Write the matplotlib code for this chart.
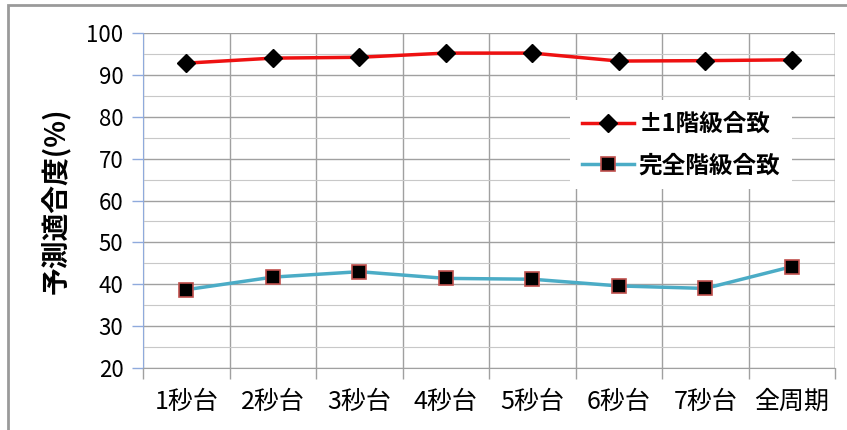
import numpy as np
import matplotlib.pyplot as plt
from matplotlib.ticker import MultipleLocator, FixedLocator
from matplotlib.patches import Rectangle

plt.rcParams['font.family'] = ['Noto Sans CJK JP', 'DejaVu Sans']

categorias = ['1秒台', '2秒台', '3秒台', '4秒台', '5秒台', '6秒台', '7秒台', '全周期']
pm1_acierto = [92.8, 94.0, 94.2, 95.2, 95.2, 93.3, 93.4, 93.6]
exacto = [38.7, 41.7, 43.0, 41.4, 41.2, 39.6, 39.0, 44.2]

fig = plt.figure(figsize=(8.47, 4.3), dpi=100)
ax = fig.add_axes([143/847, 1-368/430, 692/847, 335/430])

x = np.arange(len(categorias))
ax.plot(x, pm1_acierto, '-', color='#ee1111', lw=2.5, marker='D', ms=9,
        mfc='black', mec='black', label='±1階級合致', zorder=3)
ax.plot(x, exacto, '-', color='#4bacc6', lw=2.5, marker='s', ms=10,
        mfc='black', mec='#c0504d', mew=1.2, label='完全階級合致', zorder=3)

ax.set_xlim(-0.5, len(categorias) - 0.5)
ax.set_ylim(20, 100)
ax.yaxis.set_major_locator(MultipleLocator(10))
ax.yaxis.set_minor_locator(MultipleLocator(5))
ax.grid(True, which='major', axis='y', color='#a0a0a0', lw=1)
ax.grid(True, which='minor', axis='y', color='#c8c8c8', lw=0.8)

# limites de categoria como rejilla vertical
ax.set_xticks(x)
ax.set_xticklabels(categorias, fontsize=18)
ax.xaxis.set_minor_locator(FixedLocator(np.arange(-0.5, len(categorias), 1)))
ax.grid(True, which='minor', axis='x', color='#a0a0a0', lw=1)
ax.tick_params(axis='x', which='major', length=0, pad=15)
ax.tick_params(axis='x', which='minor', length=8, color='#a0a0a0', width=1)
ax.tick_params(axis='y', which='major', length=8, color='#8faadc', width=1, labelsize=16, pad=6)
ax.tick_params(axis='y', which='minor', length=0)
ax.set_axisbelow(True)

for s in ['top', 'right']:
    ax.spines[s].set_visible(False)
ax.spines['left'].set_color('#8faadc')
ax.spines['bottom'].set_color('#a0a0a0')
ax.axvline(len(categorias) - 0.5, color='#a0a0a0', lw=1, zorder=1)

ax.set_ylabel('予測適合度(%)', fontsize=20, fontweight='bold', labelpad=12)

leg = ax.legend(loc='upper left', bbox_to_anchor=(0.6, 0.835), frameon=True,
                fancybox=False, edgecolor='none', facecolor='white', framealpha=1,
                prop={'size': 17, 'weight': 'bold'}, handlelength=2.2,
                handletextpad=0.2, labelspacing=0.75, borderpad=0.5)

fig.patches.append(Rectangle((8/847, -0.05), 1.1, 1 - 5/430 + 0.05,
                             transform=fig.transFigure, fill=False,
                             edgecolor='#9a9a9a', lw=2))

fig.savefig('out.png', dpi=100)
